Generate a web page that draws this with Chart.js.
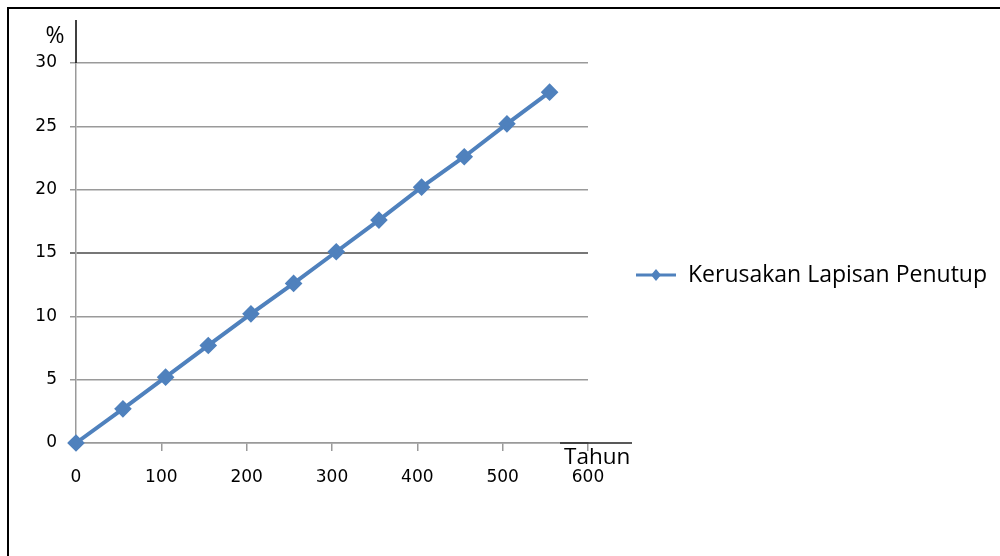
<!DOCTYPE html>
<html>
<head>
<meta charset="utf-8">
<script src="https://cdn.jsdelivr.net/npm/chart.js@4"></script>
<style>
html,body{margin:0;padding:0;background:#fff;}
#wrap{position:relative;width:1000px;height:556px;}
</style>
</head>
<body>
<div id="wrap"><canvas id="c" width="1000" height="556"></canvas></div>
<script>
const years = [0, 55, 105, 155, 205, 255, 305, 355, 405, 455, 505, 555];
const damage = [0, 2.7, 5.2, 7.7, 10.2, 12.6, 15.1, 17.6, 20.2, 22.6, 25.2, 27.7];
const seriesName = 'Kerusakan Lapisan Penutup';
const yUnit = '%';
const xUnit = 'Tahun';
const xTicks = [0, 100, 200, 300, 400, 500, 600];
const yTicks = [0, 5, 10, 15, 20, 25, 30];

const points = years.map((x, i) => ({x: x, y: damage[i]}));
const lineColor = '#4F81BD';

const decor = {
  id: 'decor',
  beforeDraw(chart) {
    const ctx = chart.ctx;
    ctx.save();
    ctx.fillStyle = '#fff';
    ctx.fillRect(0, 0, chart.width, chart.height);
    ctx.restore();
  },
  afterDraw(chart) {
    const ctx = chart.ctx;
    const a = chart.chartArea;
    ctx.save();
    // outer frame
    ctx.strokeStyle = '#000';
    ctx.lineWidth = 2;
    ctx.beginPath();
    ctx.moveTo(8, 556);
    ctx.lineTo(8, 8);
    ctx.lineTo(1000, 8);
    ctx.stroke();
    // y axis extension
    ctx.lineWidth = 1.5;
    ctx.beginPath();
    ctx.moveTo(a.left, 20);
    ctx.lineTo(a.left, a.top);
    ctx.stroke();
    // x unit underline
    ctx.strokeStyle = '#222';
    ctx.beginPath();
    ctx.moveTo(560, a.bottom);
    ctx.lineTo(632, a.bottom);
    ctx.stroke();
    // unit labels
    ctx.fillStyle = '#000';
    ctx.textBaseline = 'middle';
    ctx.textAlign = 'center';
    ctx.font = '23px "Open Sans", sans-serif';
    ctx.fillText(yUnit, 55, 36);
    ctx.textAlign = 'left';
    ctx.font = '22.5px "Open Sans", sans-serif';
    ctx.fillText(xUnit, 564, 458);
    // legend
    const ly = 275;
    ctx.strokeStyle = lineColor;
    ctx.lineWidth = 3;
    ctx.beginPath();
    ctx.moveTo(636, ly);
    ctx.lineTo(676, ly);
    ctx.stroke();
    ctx.fillStyle = lineColor;
    ctx.beginPath();
    ctx.moveTo(656, ly - 6);
    ctx.lineTo(661, ly);
    ctx.lineTo(656, ly + 6);
    ctx.lineTo(651, ly);
    ctx.closePath();
    ctx.fill();
    ctx.fillStyle = '#000';
    ctx.font = '23px "Open Sans", sans-serif';
    ctx.fillText(seriesName, 688, ly);
    ctx.restore();
  }
};

new Chart(document.getElementById('c'), {
  type: 'scatter',
  data: {
    datasets: [{
      label: seriesName,
      data: points,
      showLine: true,
      clip: false,
      borderColor: lineColor,
      backgroundColor: lineColor,
      borderWidth: 4,
      pointStyle: 'rectRot',
      pointRadius: 6,
      pointHoverRadius: 6,
      tension: 0
    }]
  },
  options: {
    responsive: false,
    animation: false,
    devicePixelRatio: 1,
    layout: {padding: {top: 63, right: 412, left: 0, bottom: 0}},
    plugins: {legend: {display: false}, tooltip: {enabled: false}},
    scales: {
      x: {
        type: 'linear',
        min: 0, max: 600,
        afterBuildTicks(s) { s.ticks = xTicks.map(v => ({value: v})); },
        afterFit(s) { s.height = 113; },
        border: {display: true, color: '#9a9a9a', width: 1.5},
        grid: {drawOnChartArea: false, drawTicks: true, tickLength: 8, color: '#9a9a9a', lineWidth: 1.5},
        ticks: {padding: 16, maxRotation: 0, color: '#000', font: {family: '"DejaVu Sans", sans-serif', size: 17}}
      },
      y: {
        type: 'linear',
        min: 0, max: 30,
        afterBuildTicks(s) { s.ticks = yTicks.map(v => ({value: v})); },
        afterFit(s) { s.width = 76; },
        border: {display: true, color: '#9a9a9a', width: 1.5},
        grid: {
          drawTicks: true, tickLength: 6,
          color: ctx => ctx.tick && ctx.tick.value === 15 ? '#777' : '#9a9a9a',
          lineWidth: ctx => ctx.tick && ctx.tick.value === 15 ? 2 : 1.5
        },
        ticks: {padding: 13, color: '#000', font: {family: '"DejaVu Sans", sans-serif', size: 17}}
      }
    }
  },
  plugins: [decor]
});
</script>
</body>
</html>
